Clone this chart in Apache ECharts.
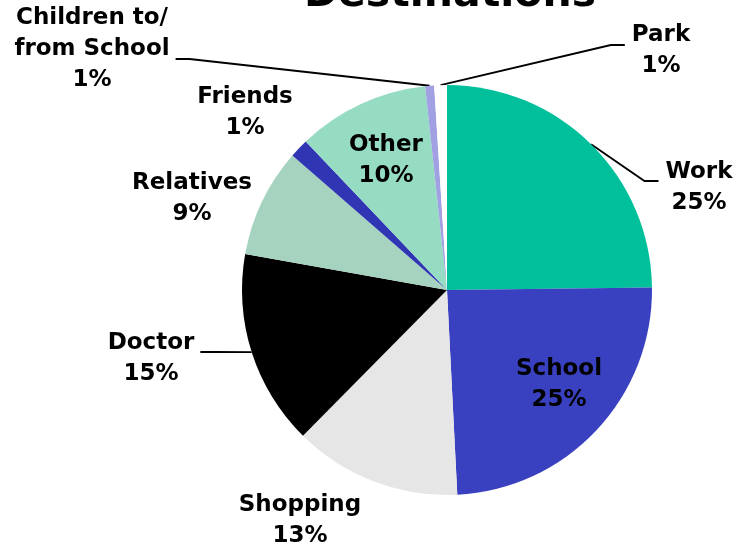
<!DOCTYPE html>
<html>
<head>
<meta charset="utf-8">
<title>Destinations</title>
<script src="https://cdn.jsdelivr.net/npm/echarts@6/dist/echarts.min.js"></script>
<style>
  html, body { margin: 0; padding: 0; background: #fff; }
  #chart { width: 739px; height: 550px; }
</style>
</head>
<body>
<div id="chart"></div>
<script>
// categories, clockwise from 12 o'clock
const categories = ['Work', 'School', 'Shopping', 'Doctor', 'Relatives', 'Friends', 'Other', 'Children to/\nfrom School', 'Park']
// slice shares (angles)
const shares = [24.8, 24.4, 13.2, 15.4, 8.6, 1.5, 10.4, 0.7, 1.0]
// percentages as printed in the labels
const shownPct = [25, 25, 13, 15, 9, 1, 10, 1, 1]

const colors = ['#00bf9b', '#3a41c0', '#e6e6e6', '#000000', '#a6d3bf', '#3035b3', '#96dcc3', '#a0a0e2', '#ffffff']
const insideLabels = ['School', 'Other']
const lineLabels = ['Work', 'Doctor', 'Children to/\nfrom School', 'Park']

// label text centres [x, y, leader attach y offset]
const labelPos = [
  [699, 188, -7],
  [559, 385, 0],
  [300, 521, 0],
  [151, 359, -7],
  [192, 199, 0],
  [245, 113, 0],
  [386, 161, 0],
  [92, 49, 10],
  [661, 51, -6]
]

const chart = echarts.init(document.getElementById('chart'))

const seriesData = categories.map((name, i) => ({
  name: name,
  value: shares[i],
  itemStyle: { color: colors[i] },
  label: { position: insideLabels.includes(name) ? 'inside' : 'outside' },
  labelLine: { show: lineLabels.includes(name) }
}))

chart.setOption({
  animation: false,
  title: {
    text: 'Destinations',
    left: 445,
    top: -30,
    textAlign: 'center',
    textStyle: {
      fontFamily: 'DejaVu Sans',
      fontWeight: 'bold',
      fontSize: 41,
      color: '#000'
    }
  },
  series: [{
    type: 'pie',
    center: [447, 290],
    radius: 205,
    startAngle: 90,
    clockwise: true,
    avoidLabelOverlap: false,
    data: seriesData,
    label: {
      formatter: p => p.name + '\n' + shownPct[p.dataIndex] + '%',
      fontFamily: 'DejaVu Sans',
      fontWeight: 'bold',
      fontSize: 23,
      lineHeight: 31,
      color: '#000'
    },
    labelLine: {
      length: 20,
      length2: 15,
      lineStyle: { color: '#000', width: 1.8 }
    },
    labelLayout: function (params) {
      const pos = labelPos[params.dataIndex]
      const w = params.labelRect.width
      const out = { x: pos[0], y: pos[1], align: 'center', verticalAlign: 'middle' }
      const pts = params.labelLinePoints
      if (pts && lineLabels.includes(categories[params.dataIndex])) {
        const start = pts[0]
        const isLeft = pos[0] < start[0]
        const endX = isLeft ? pos[0] + w / 2 + 6 : pos[0] - w / 2 - 7
        const endY = pos[1] + pos[2]
        const bendX = isLeft ? endX + 14 : endX - 14
        out.labelLinePoints = [start, [bendX, endY], [endX, endY]]
      }
      return out
    }
  }]
})
</script>
</body>
</html>
